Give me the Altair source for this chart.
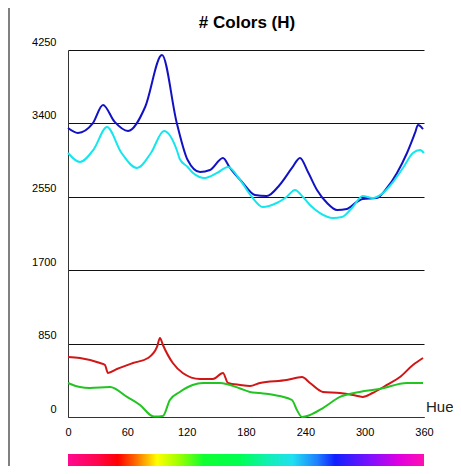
import altair as alt
import pandas as pd

# ---- data ----
blue_h = [0, 10, 25, 35.4, 47, 60.7, 78, 95, 110, 121, 133.5, 143.6, 156.7, 163.8, 176, 189, 201, 214, 226.5, 234.6, 242.7, 251.8, 262, 272, 282, 292, 298, 312, 322.5, 332.7, 342.8, 350.9, 354, 359]
blue_v = [3347, 3290, 3400, 3613, 3420, 3312, 3590, 4192, 3405, 2976, 2837, 2860, 3000, 2884, 2721, 2571, 2559, 2687, 2884, 3000, 2837, 2629, 2478, 2397, 2409, 2490, 2525, 2536, 2652, 2826, 3057, 3289, 3382, 3335]

cyan_h = [0, 12, 26, 39.4, 54, 69.8, 84, 97, 110, 113, 121, 126.4, 138.5, 150.7, 161.8, 174, 186, 197, 211, 221, 229.5, 237.6, 244.7, 254.8, 268, 277, 288, 298, 308, 318.5, 328.6, 338.7, 348.8, 356, 360]
cyan_v = [3057, 2953, 3100, 3358, 3060, 2884, 3060, 3312, 3092, 2988, 2895, 2826, 2768, 2826, 2895, 2745, 2548, 2432, 2478, 2548, 2629, 2548, 2455, 2362, 2305, 2316, 2432, 2559, 2536, 2594, 2721, 2884, 3057, 3092, 3057]

red_h = [0, 12, 32.4, 37.4, 40.4, 49.5, 65.7, 80.9, 90, 93, 96, 106, 116, 133.5, 146.6, 156.7, 161.8, 174, 184, 194, 221, 236.6, 244.7, 257.8, 275, 288, 298, 308, 322.5, 335.7, 348.8, 359]
red_v = [695, 683, 625, 602, 510, 556, 625, 683, 811, 915, 834, 625, 510, 440, 440, 510, 394, 371, 359, 394, 428, 463, 394, 290, 278, 255, 232, 278, 371, 463, 602, 683]

green_h = [0, 12, 22, 42.5, 59.7, 72.8, 85, 88, 96, 103, 113, 126, 136.5, 153.7, 174, 184, 194, 214, 226.5, 231.5, 236.6, 244.7, 257.8, 275, 295, 315, 342.8, 359]
green_v = [394, 347, 336, 347, 232, 139, 12, 5, 12, 197, 290, 371, 394, 394, 330, 290, 278, 243, 197, 81, 0, 23, 104, 232, 290, 324, 394, 394]

series_names = ["blue", "cyan", "red", "green"]
series_colors = ["#1212c4", "#14e6ee", "#d01616", "#22c422"]

x_ticks = [0, 60, 120, 180, 240, 300, 360]
y_ticks = [0, 850, 1700, 2550, 3400, 4250]

title_text = "# Colors (H)"
x_title = "Hue"

rows = []
for name, hs, vs in [("blue", blue_h, blue_v), ("cyan", cyan_h, cyan_v),
                     ("red", red_h, red_v), ("green", green_h, green_v)]:
    for i, (h, v) in enumerate(zip(hs, vs)):
        rows.append({"series": name, "hue": h, "count": v, "order": i})
df = pd.DataFrame(rows)

W, H = 356, 367
xscale = alt.Scale(domain=[0, 360], nice=False, zero=False)
yscale = alt.Scale(domain=[0, 4250], nice=False)

lines = alt.Chart(df).mark_line(strokeWidth=2, interpolate="monotone").encode(
    x=alt.X("hue:Q", scale=xscale,
            axis=alt.Axis(values=x_ticks, grid=False, ticks=False, domain=True,
                          domainColor="#333333", labelPadding=9, labelFontSize=11,
                          labelColor="#000000", labelFont="Liberation Sans", title=None,
                          format="d", labelFlush=False)),
    y=alt.Y("count:Q", scale=yscale,
            axis=alt.Axis(values=y_ticks, grid=True, gridColor="#111111", gridOpacity=1,
                          ticks=False, domain=True, domainColor="#333333",
                          labelPadding=12, labelOffset=-8, labelFontSize=11,
                          labelColor="#000000", labelFont="Liberation Sans", title=None,
                          format="d", labelFlush=False)),
    color=alt.Color("series:N", scale=alt.Scale(domain=series_names, range=series_colors), legend=None),
    order="order:Q",
)

bar_df = pd.DataFrame({"x0": [0], "x1": [360]})
grad = alt.Gradient(
    gradient="linear", x1=0, x2=1, y1=0, y2=0,
    stops=[
        alt.GradientStop(offset=0.0, color="#ff0a90"),
        alt.GradientStop(offset=0.08, color="#ff0650"),
        alt.GradientStop(offset=0.14, color="#ff0000"),
        alt.GradientStop(offset=0.19, color="#ff6a00"),
        alt.GradientStop(offset=0.25, color="#ffff00"),
        alt.GradientStop(offset=0.31, color="#a0ff00"),
        alt.GradientStop(offset=0.38, color="#10ff30"),
        alt.GradientStop(offset=0.48, color="#00ff50"),
        alt.GradientStop(offset=0.56, color="#10f0b0"),
        alt.GradientStop(offset=0.63, color="#20e0f0"),
        alt.GradientStop(offset=0.70, color="#2080ff"),
        alt.GradientStop(offset=0.75, color="#1020ff"),
        alt.GradientStop(offset=0.85, color="#8010ff"),
        alt.GradientStop(offset=0.93, color="#e000e0"),
        alt.GradientStop(offset=1.0, color="#ff10b0"),
    ],
)
bar = alt.Chart(bar_df).mark_rect(color=grad).encode(
    x=alt.X("x0:Q", scale=xscale), x2="x1:Q",
    y=alt.value(404), y2=alt.value(416),
)

title = alt.Chart(pd.DataFrame({"t": [title_text]})).mark_text(
    font="Liberation Sans", fontSize=17, fontWeight="bold", color="#000000",
    align="center", baseline="alphabetic",
).encode(x=alt.value(W / 2 + 1), y=alt.value(-22), text="t:N")

hue_lbl = alt.Chart(pd.DataFrame({"t": [x_title]})).mark_text(
    font="Liberation Sans", fontSize=15, color="#222222",
    align="left", baseline="alphabetic",
).encode(x=alt.value(358), y=alt.value(362), text="t:N")

frame = alt.Chart(pd.DataFrame({"a": [0]})).mark_rule(color="#808080", strokeWidth=2).encode(
    x=alt.value(-59), y=alt.value(-50), y2=alt.value(416),
)

chart = alt.layer(bar, lines, title, hue_lbl, frame).properties(
    width=W, height=H,
    padding={"left": 60, "top": 42, "right": 29, "bottom": 49},
    autosize=alt.AutoSizeParams(type="none"),
).configure_view(stroke=None)

chart.save("out.html", embed_options={"renderer": "svg", "actions": False})
